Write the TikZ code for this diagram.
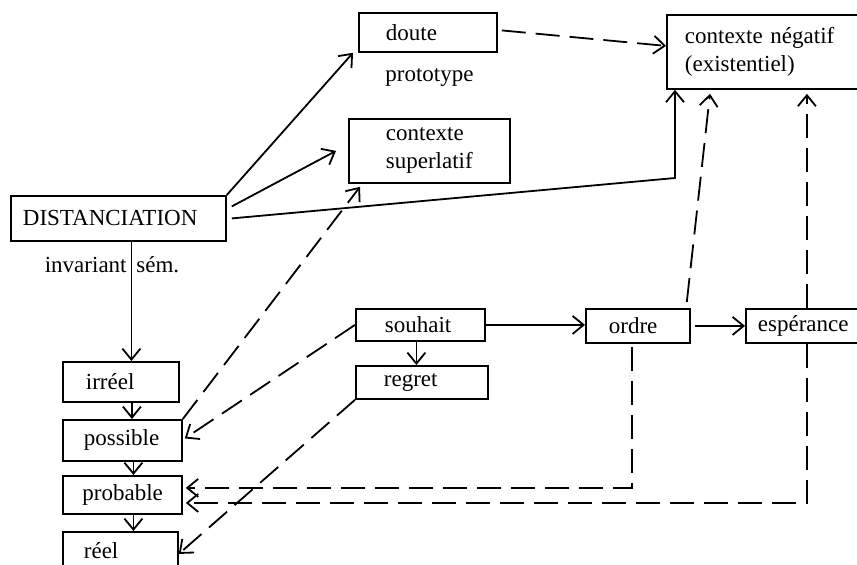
\documentclass[tikz,border=0pt]{standalone}
\usepackage{fontspec}
\setmainfont{Liberation Serif}
\usepackage{tikz}
\usetikzlibrary{arrows.meta,calc}
\tikzset{
  % plain frame, text set flush left inside
  box/.style  = {draw, line width=0.9pt, anchor=north west, align=left,
                 inner ysep=1pt, font=\fontsize{11.5}{14}\selectfont},
  arr/.style  = {-{Straight Barb[length=5.5pt,width=9pt]}, line width=0.9pt},
  darr/.style = {arr, dash pattern=on 12pt off 5pt},
  lbl/.style  = {font=\fontsize{11.5}{14}\selectfont, inner sep=0pt},
}

\begin{document}
\begin{tikzpicture}[x=0.5pt,y=-0.5pt]
\useasboundingbox (0,0) rectangle (857,564);
\clip (0,0) rectangle (857,564);
% top row
\node[box, text width=42pt, inner xsep=13.5pt, minimum height=19.5pt] (doute) at (358,12) {doute};
\node[lbl, anchor=base west] (proto) at (385,81) {prototype};
\node[box, text width=43.5pt, inner xsep=18.5pt, minimum height=32pt] (sup) at (348,118) {contexte\\superlatif};
\node[box, text width=77.5pt, inner xsep=9pt, minimum height=37pt] (neg) at (666,14) {contexte négatif\\(existentiel)};
\node[box, text width=95.5pt, inner xsep=6pt, minimum height=22.5pt] (dist) at (10,195) {DISTANCIATION};
\node[lbl, anchor=base east] (inv) at (127,272) {invariant};
\node[lbl, anchor=base west] (sem) at (136,272) {sém.};
% left column
\node[box, text width=35pt, inner xsep=11.5pt, minimum height=20pt] (irreel) at (62,361) {irréel};
\node[box, text width=38.5pt, inner xsep=10.5pt, minimum height=20.5pt] (poss) at (62,419) {possible};
\node[box, text width=40pt, inner xsep=9.75pt, minimum height=19pt] (prob) at (62,475) {probable};
\node[box, text width=36.5pt, inner xsep=10.5pt, minimum height=19pt] (reel) at (62,531) {réel};
% middle row
\node[box, text width=35.5pt, inner xsep=14.5pt, minimum height=16pt] (souhait) at (355,308) {souhait};
\node[box, text width=38pt, inner xsep=14pt, minimum height=16.5pt] (regret) at (355,365) {regret};
\node[box, text width=29pt, inner xsep=11.5pt, minimum height=17pt] (ordre) at (585,308) {ordre};
\node[box, text width=46pt, inner xsep=6pt, minimum height=17pt] (esp) at (745,308) {espérance};
\coordinate (kneg) at (675,178);

% solid links
\draw[arr] (dist.north east) -- ([xshift=-2.5pt]doute.south west);
\draw[arr] ([shift={(2.5pt,6pt)}]dist.east) -- ([xshift=-6pt]sup.west);
\draw[arr] ([xshift=2.5pt]dist.east) -- (kneg) -- (kneg |- neg.south);
\draw[arr] ([xshift=6.5pt]dist.south) -- ([xshift=6.5pt]dist.south |- irreel.north);
\foreach \a/\b in {irreel/poss, poss/prob, prob/reel}
  \draw[arr] ([xshift=5.5pt]\a.south) -- ([xshift=5.5pt]\a.south |- \b.north);
\draw[arr] ([xshift=-2pt]souhait.south) -- ([xshift=-2pt]souhait.south |- regret.north);
\draw[arr] (souhait.east) -- (souhait.east -| ordre.west);
\draw[arr, shorten <=2pt] (ordre.east) -- (esp.west);
% dashed links
\draw[darr] ([shift={(2pt,1pt)}]doute.east) -- ([yshift=3pt]neg.west);
\draw[darr] (poss.north east) -- ([shift={(6pt,-1.5pt)}]sup.south west);
\draw[darr] (souhait.west) -- ([shift={(1pt,1pt)}]poss.east);
\draw[darr] (regret.south west) -- ([yshift=-1.5pt]reel.east);
\draw[darr] ([shift={(-2pt,3pt)}]ordre.north east) -- ([shift={(22pt,-2pt)}]neg.south west);
\draw[darr] ([xshift=1.5pt]esp.north) -- ([shift={(1.5pt,-2pt)}]esp.north |- neg.south);
\draw[darr, shorten <=1.5pt] ([xshift=-3pt]ordre.south) |- ([shift={(1.5pt,3.5pt)}]prob.east);
\draw[darr] ([xshift=1.5pt]esp.south) |- ([shift={(1.5pt,-4pt)}]prob.east);
\end{tikzpicture}
\end{document}
